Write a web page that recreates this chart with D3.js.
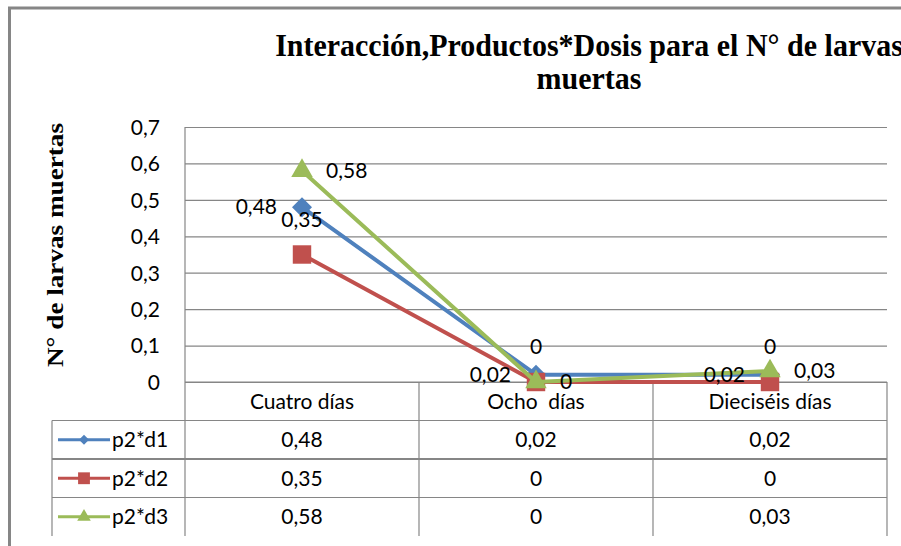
<!DOCTYPE html>
<html>
<head>
<meta charset="utf-8">
<script src="https://cdn.jsdelivr.net/npm/d3@7"></script>
<style>
  html, body { margin: 0; padding: 0; background: #fff; }
  svg { display: block; }
  .num { font-family: Lato, "Open Sans", sans-serif; font-size: 21px; fill: #000; }
</style>
</head>
<body>
<div id="chart"></div>
<script>
'use strict';

// ------------------------------------
// DATA
// ------------------------------------
const categories = ["Cuatro días", "Ocho  días", "Dieciséis días"];
const seriesNames = ["p2*d1", "p2*d2", "p2*d3"];
const p2d1 = [0.48, 0.02, 0.02];
const p2d2 = [0.35, 0, 0];
const p2d3 = [0.58, 0, 0.03];
const yTicks = [0, 0.1, 0.2, 0.3, 0.4, 0.5, 0.6, 0.7];
const titleLines = ["Interacción,Productos*Dosis para el N° de larvas", "muertas"];
const yTitle = "N° de larvas muertas";

// ------------------------------------
// SETUP
// ------------------------------------
const width = 901;
const height = 546;
const plot = { left: 185, right: 887, top: 127, bottom: 382 };
const rowH = 38.5;
const legendLeft = 52;
const gridColor = "#868686";

const colors = ["#4f81bd", "#c0504d", "#9bbb59"];
const symbols = [d3.symbolSquare, d3.symbolSquare, d3.symbolTriangle];
const markerSize = [200, 340, 200];
const keySize = [50, 140, 80];
const rotate = [45, 0, 0];
// label placement: blue left, red above, green right
const labelPos = ["left", "top", "right"];

const series = seriesNames.map((name, i) => ({
  name,
  values: [p2d1, p2d2, p2d3][i],
  color: colors[i],
  i
}));

const comma = d3.formatLocale({ decimal: ",", thousands: ".", grouping: [3], currency: ["", ""] });
const fmt = comma.format("~g");

const svg = d3.select("#chart")
  .append("svg")
  .attr("width", width)
  .attr("height", height);

// outer frame (cropped at right and bottom)
svg.append("rect")
  .attr("x", 9.5)
  .attr("y", 8)
  .attr("width", 1000)
  .attr("height", 1000)
  .attr("fill", "none")
  .attr("stroke", gridColor)
  .attr("stroke-width", 3);

// Scales
const x = d3.scaleBand().domain(categories).range([plot.left, plot.right]);
const y = d3.scaleLinear().domain([0, 0.7]).range([plot.bottom, plot.top]);

// ------------------------------------
// TITLE
// ------------------------------------
const titleG = svg.append("g");
const titleCx = 589;
const titleTexts = titleG.selectAll("text")
  .data(titleLines)
  .join("text")
  .attr("x", titleCx)
  .attr("y", (d, i) => 56 + i * 33)
  .attr("text-anchor", "middle")
  .attr("font-family", "Liberation Serif, 'DejaVu Serif', serif")
  .attr("font-weight", "bold")
  .attr("font-size", 32)
  .text(d => d);

// squeeze horizontally to match the narrow title
const natW = titleTexts.node().getComputedTextLength();
const sx = 628 / natW;
titleTexts.attr("transform", `translate(${titleCx},0) scale(${sx},1) translate(${-titleCx},0)`);

// Y title
svg.append("text")
  .attr("transform", `translate(63, 245) rotate(-90)`)
  .attr("text-anchor", "middle")
  .attr("font-family", "Liberation Serif, 'DejaVu Serif', serif")
  .attr("font-weight", "bold")
  .attr("font-size", 23)
  .attr("textLength", 244)
  .attr("lengthAdjust", "spacingAndGlyphs")
  .text(yTitle);

// ------------------------------------
// GRID + Y AXIS
// ------------------------------------
const yAxis = d3.axisLeft(y)
  .tickValues(yTicks)
  .tickSize(-(plot.right - plot.left))
  .tickPadding(25)
  .tickFormat(fmt);

const gy = svg.append("g")
  .attr("transform", `translate(${plot.left},0)`)
  .call(yAxis);
gy.select(".domain").remove();
gy.selectAll(".tick line").attr("stroke", gridColor).attr("stroke-width", 1.2);
gy.selectAll(".tick text")
  .attr("class", "num")
  .attr("font-family", null)
  .attr("font-size", null)
  .attr("fill", null)
  .attr("dy", "0.35em");

// ------------------------------------
// DATA TABLE
// ------------------------------------
const tableG = svg.append("g").attr("stroke", gridColor).attr("stroke-width", 1.2);
const tableBottom = plot.bottom + rowH * 4;

// left edge of plot area + column separators
[plot.left, ...categories.slice(1).map(c => x(c)), plot.right].forEach((xx, k) => {
  tableG.append("line")
    .attr("x1", xx).attr("x2", xx)
    .attr("y1", k === 0 ? plot.top : plot.bottom)
    .attr("y2", tableBottom);
});
tableG.append("line")
  .attr("x1", legendLeft).attr("x2", legendLeft)
  .attr("y1", plot.bottom + rowH).attr("y2", tableBottom);
// horizontal row lines
tableG.append("line")
  .attr("x1", plot.left).attr("x2", plot.right)
  .attr("y1", plot.bottom).attr("y2", plot.bottom);
d3.range(1, 4).forEach(r => {
  tableG.append("line")
    .attr("x1", legendLeft).attr("x2", plot.right)
    .attr("y1", plot.bottom + r * rowH).attr("y2", plot.bottom + r * rowH)
    .attr("stroke-width", r === 2 ? 2 : 1.2);
});

// header labels
svg.append("g").selectAll("text")
  .data(categories)
  .join("text")
  .attr("class", "num")
  .attr("x", d => x(d) + x.bandwidth() / 2)
  .attr("y", plot.bottom + rowH / 2)
  .attr("dy", "0.35em")
  .attr("text-anchor", "middle")
  .style("white-space", "pre")
  .text(d => d);

// rows
const rows = svg.append("g").selectAll("g")
  .data(series)
  .join("g")
  .attr("transform", d => `translate(0, ${plot.bottom + rowH * (d.i + 1.5)})`);

rows.selectAll("text.val")
  .data(d => d.values.map((v, j) => ({ v, cat: categories[j] })))
  .join("text")
  .attr("class", "num")
  .attr("x", d => x(d.cat) + x.bandwidth() / 2)
  .attr("dy", "0.35em")
  .attr("text-anchor", "middle")
  .text(d => fmt(d.v));

// legend keys
rows.append("line")
  .attr("x1", 58).attr("x2", 110)
  .attr("stroke", d => d.color)
  .attr("stroke-width", 3);
rows.append("path")
  .attr("transform", d => `translate(84,0) rotate(${rotate[d.i]})`)
  .attr("d", d => d3.symbol(symbols[d.i], keySize[d.i])())
  .attr("fill", d => d.color);
rows.append("text")
  .attr("class", "num")
  .attr("x", 112)
  .attr("dy", "0.35em")
  .text(d => d.name);

// ------------------------------------
// LINES + MARKERS
// ------------------------------------
const line = d3.line()
  .x((d, j) => x(categories[j]) + x.bandwidth() / 2)
  .y(d => y(d));

const sg = svg.append("g").selectAll("g")
  .data(series)
  .join("g");

sg.append("path")
  .attr("fill", "none")
  .attr("stroke", d => d.color)
  .attr("stroke-width", 4)
  .attr("stroke-linejoin", "round")
  .attr("d", d => line(d.values));

sg.selectAll("path.mark")
  .data(d => d.values.map((v, j) => ({ v, j, s: d })))
  .join("path")
  .attr("class", "mark")
  .attr("transform", d => `translate(${x(categories[d.j]) + x.bandwidth() / 2}, ${y(d.v)}) rotate(${rotate[d.s.i]})`)
  .attr("d", d => d3.symbol(symbols[d.s.i], markerSize[d.s.i])())
  .attr("fill", d => d.s.color);

// data labels
const labelsG = svg.append("g");
series.forEach(s => {
  labelsG.selectAll(null)
    .data(s.values.map((v, j) => ({ v, j })))
    .join("text")
    .attr("class", "num")
    .attr("x", d => {
      const cx = x(categories[d.j]) + x.bandwidth() / 2;
      return labelPos[s.i] === "left" ? cx - 25 : labelPos[s.i] === "right" ? cx + 24 : cx;
    })
    .attr("y", d => y(d.v) - (labelPos[s.i] === "top" ? 35 : 0))
    .attr("dy", "0.35em")
    .attr("text-anchor", labelPos[s.i] === "left" ? "end" : labelPos[s.i] === "right" ? "start" : "middle")
    .text(d => fmt(d.v));
});
</script>
</body>
</html>
